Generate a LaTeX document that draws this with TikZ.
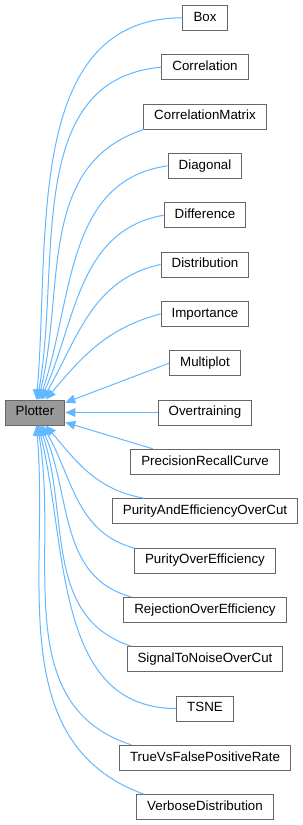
\documentclass[tikz,border=0pt]{standalone}
\usepackage{fontspec}
\setmainfont{Liberation Sans}
\usetikzlibrary{arrows.meta,positioning}
\definecolor{edgeblue}{HTML}{63B8FF}
\definecolor{frame}{HTML}{666666}
\definecolor{basefill}{HTML}{999999}
\tikzset{
  classbox/.style={draw=frame,fill=white,line width=0.75pt,minimum height=18.75pt,
                   inner xsep=7.9pt,inner ysep=0pt,text height=7.2pt,text depth=2pt,
                   font=\fontsize{10}{12}\selectfont},
  basebox/.style={classbox,fill=basefill},
  inherit/.style={-{Triangle[length=7.5pt,width=6.5pt]},line width=0.75pt,draw=edgeblue}
}

\begin{document}
\begin{tikzpicture}[x=0.75pt,y=0.75pt,node distance=17.5pt]
  \fill[white] (0,0) rectangle (303,-825);
  \useasboundingbox (0,0) rectangle (303,-825);
  % base class
  \node[basebox] (plotter) at (35,-412.5) {Plotter};
  % derived classes, upwards from the middle
  \node[classbox] (overtraining) at (205,-412.5) {Overtraining};
  \node[classbox,above=of overtraining] (multiplot) {Multiplot};
  \node[classbox,above=of multiplot] (importance) {Importance};
  \node[classbox,above=of importance] (distribution) {Distribution};
  \node[classbox,above=of distribution] (difference) {Difference};
  \node[classbox,above=of difference] (diagonal) {Diagonal};
  \node[classbox,above=of diagonal] (correlationmatrix) {CorrelationMatrix};
  \node[classbox,above=of correlationmatrix] (correlation) {Correlation};
  \node[classbox,above=of correlation] (box) {Box};
  % and downwards
  \node[classbox,below=of overtraining] (precisionrecallcurve) {PrecisionRecallCurve};
  \node[classbox,below=of precisionrecallcurve] (purityandefficiencyovercut) {PurityAndEfficiencyOverCut};
  \node[classbox,below=of purityandefficiencyovercut] (purityoverefficiency) {PurityOverEfficiency};
  \node[classbox,below=of purityoverefficiency] (rejectionoverefficiency) {RejectionOverEfficiency};
  \node[classbox,below=of rejectionoverefficiency] (signaltonoiseovercut) {SignalToNoiseOverCut};
  \node[classbox,below=of signaltonoiseovercut] (tsne) {TSNE};
  \node[classbox,below=of tsne] (truevsfalsepositiverate) {TrueVsFalsePositiveRate};
  \node[classbox,below=of truevsfalsepositiverate] (verbosedistribution) {VerboseDistribution};

  % inheritance edges
  \draw[inherit] (box.west) to[out=180,in=85] (plotter.84);
  \draw[inherit] (correlation.west) to[out=185,in=80] (plotter.80);
  \draw[inherit] (correlationmatrix.192) to[out=198,in=76] (plotter.76);
  \draw[inherit] (diagonal.west) to[out=188,in=71] (plotter.71);
  \draw[inherit] (difference.west) to[out=190,in=66] (plotter.66);
  \draw[inherit] (distribution.west) to[out=192,in=60] (plotter.60);
  \draw[inherit] (importance.west) to[out=195,in=50] (plotter.50);
  \draw[inherit] (multiplot.west) -- (plotter.18);
  \draw[inherit] (overtraining.west) -- (plotter.east);
  \draw[inherit] (precisionrecallcurve.166) -- (plotter.-18);
  \draw[inherit] (purityandefficiencyovercut.168) to[out=170,in=-50] (plotter.-50);
  \draw[inherit] (purityoverefficiency.170) to[out=165,in=-60] (plotter.-60);
  \draw[inherit] (rejectionoverefficiency.170) to[out=165,in=-66] (plotter.-66);
  \draw[inherit] (signaltonoiseovercut.170) to[out=162,in=-71] (plotter.-71);
  \draw[inherit] (tsne.west) to[out=180,in=-76] (plotter.-76);
  \draw[inherit] (truevsfalsepositiverate.170) to[out=162,in=-80] (plotter.-80);
  \draw[inherit] (verbosedistribution.168) to[out=160,in=-85] (plotter.-84);
\end{tikzpicture}
\end{document}
